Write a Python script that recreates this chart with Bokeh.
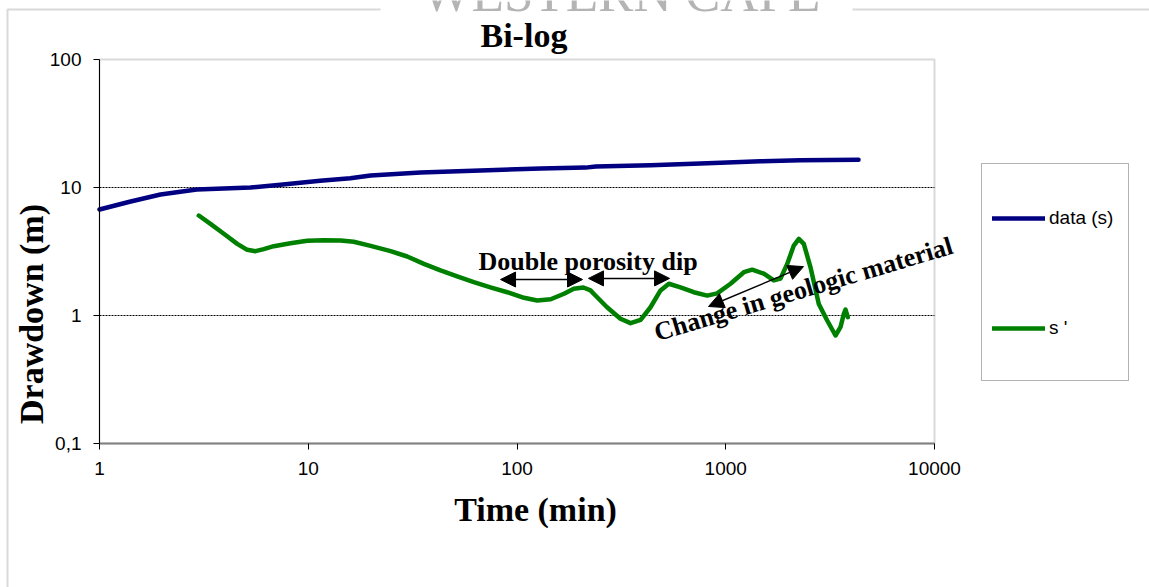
import math
from bokeh.plotting import figure
from bokeh.models import (FixedTicker, Label, Arrow, NormalHead, BoxAnnotation,
                          Legend, LegendItem)
from bokeh.embed import file_html
from bokeh.resources import INLINE

# ---------------- data ----------------
time_s = [1, 1.41, 1.96, 2.92, 5.29, 7.36, 11.4, 15.9, 19.9, 34.5, 66.8, 130,
          213, 238, 436, 757, 1468, 2280, 4326]
data_s = [6.73, 7.78, 8.82, 9.65, 10.0, 10.5, 11.3, 11.8, 12.4, 13.1, 13.6, 14.1,
          14.3, 14.6, 14.9, 15.4, 16.0, 16.3, 16.5]

time_d = [2.99, 3.40, 3.94, 4.57, 5.10, 5.59, 6.12, 6.84, 8.22, 9.89,
          11.9, 14.3, 16.5, 19.9, 24.8, 29.8, 35.8, 43.0, 51.7, 62.1,
          74.6, 89.8, 108, 125, 145, 168, 187, 208, 225, 233,
          270, 313, 350, 391, 436, 487, 534, 607, 703, 815,
          910, 1054, 1221, 1339, 1522, 1699, 1829, 1970, 2118, 2239,
          2365, 2547, 2791, 3062, 3356, 3545, 3678, 3748, 3844]
deriv_s = [6.04, 5.20, 4.35, 3.63, 3.26, 3.18, 3.30, 3.48, 3.67, 3.83,
           3.88, 3.85, 3.77, 3.50, 3.18, 2.89, 2.53, 2.25, 2.02, 1.82,
           1.66, 1.52, 1.375, 1.31, 1.34, 1.48, 1.62, 1.655, 1.57, 1.48,
           1.16, 0.943, 0.871, 0.926, 1.16, 1.57, 1.77, 1.66, 1.52, 1.43,
           1.49, 1.77, 2.18, 2.28, 2.12, 1.88, 1.94, 2.53, 3.52, 3.97,
           3.63, 2.38, 1.23, 0.914, 0.698, 0.810, 1.03, 1.11, 0.97]

x_ticks = [1, 10, 100, 1000, 10000]
x_tick_labels = ["1", "10", "100", "1000", "10000"]
y_ticks = [0.1, 1, 10, 100]
y_tick_labels = ["0,1", "1", "10", "100"]
grid_lines = [1, 10]

series_names = ["data (s)", "s '"]
title_text = "Bi-log"
x_title = "Time (min)"
y_title = "Drawdown (m)"
note_dip = "Double porosity dip"
note_geo = "Change in geologic material"
watermark = "WESTERN CAPE"

SERIF = "Liberation Serif"
SANS = "Liberation Sans"

# ---------------- layout (pixels) ----------------
W, H = 1149, 587
X_LO, X_HI = 1, 10000
Y_LO, Y_HI = 0.1, 100
L, R, T, B = 99, 934, 59, 443          # plot-area edges in the window
DX = (R - L) / math.log10(X_HI / X_LO)  # px per decade
DY = (B - T) / math.log10(Y_HI / Y_LO)
x_range = (X_LO * 10 ** (-L / DX), X_LO * 10 ** ((W - L) / DX))
y_range = (Y_LO * 10 ** (-(H - B) / DY), Y_HI * 10 ** (T / DY))


def sy(py):
    """window pixel row -> screen units (from the bottom)"""
    return H - py


p = figure(width=W, height=H, x_axis_type="log", y_axis_type="log",
           x_range=x_range, y_range=y_range,
           output_backend="svg", toolbar_location=None,
           min_border=0, min_border_left=0, min_border_right=0,
           min_border_top=0, min_border_bottom=0,
           background_fill_color="white", border_fill_color="white")
p.outline_line_color = None
p.xgrid.visible = False
p.ygrid.visible = False

# axes drawn at the plot-area edges
p.xaxis.fixed_location = Y_LO
p.xaxis.bounds = (X_LO, X_HI)
p.yaxis.fixed_location = X_LO
p.yaxis.bounds = (Y_LO, Y_HI)
p.xaxis.ticker = FixedTicker(ticks=x_ticks)
p.xaxis.major_label_overrides = dict(zip(x_ticks, x_tick_labels))
p.yaxis.ticker = FixedTicker(ticks=y_ticks)
p.yaxis.major_label_overrides = dict(zip(y_ticks, y_tick_labels))
for ax in (p.xaxis, p.yaxis):
    ax.minor_tick_line_color = None
    ax.major_tick_in = 0
    ax.major_tick_out = 6
    ax.major_tick_line_color = "black"
    ax.major_label_text_font = SANS
    ax.major_label_text_font_size = "19px"
    ax.major_label_text_color = "black"
p.yaxis.axis_line_color = "black"
p.yaxis.axis_line_width = 1
p.yaxis.major_label_standoff = 12
p.xaxis.axis_line_color = "#808080"
p.xaxis.axis_line_width = 2
p.xaxis.major_label_standoff = 12

# outer chart border, watermark
p.add_layout(BoxAnnotation(left=7, right=W + 20, top=sy(9), bottom=-30,
                           left_units="screen", right_units="screen",
                           top_units="screen", bottom_units="screen",
                           fill_color=None, fill_alpha=0,
                           line_color="#808080", line_width=2, level="underlay"))
p.add_layout(BoxAnnotation(left=380, right=852, top=H + 20, bottom=sy(16),
                           left_units="screen", right_units="screen",
                           top_units="screen", bottom_units="screen",
                           fill_color="white", fill_alpha=1, line_color=None,
                           level="underlay"))
p.add_layout(Label(x=421, y=sy(-7.5), x_units="screen", y_units="screen",
                   text=watermark, text_font=SERIF, text_font_size="53px",
                   text_color="#b4b4b4", text_baseline="alphabetic"))

# plot-area frame (grey) and dotted gridlines
p.add_layout(BoxAnnotation(left=X_LO, right=X_HI, bottom=Y_LO, top=Y_HI,
                           fill_color=None, fill_alpha=0,
                           line_color="#808080", line_width=2, level="underlay"))
p.segment(x0=[X_LO] * len(grid_lines), x1=[X_HI] * len(grid_lines),
          y0=grid_lines, y1=grid_lines,
          line_color="black", line_width=1, line_dash="2 1")

# series
r_data = p.line(time_s, data_s, line_color="#000080", line_width=4.5,
                line_cap="round", line_join="round")
r_deriv = p.line(time_d, deriv_s, line_color="#008000", line_width=4.5,
                 line_cap="round", line_join="round")

# titles
p.add_layout(Label(x=480, y=sy(35.4), x_units="screen", y_units="screen",
                   text=title_text, text_font=SERIF, text_font_size="34px",
                   text_font_style="bold", text_align="left",
                   text_baseline="alphabetic", text_color="black"))
p.add_layout(Label(x=535, y=sy(509.4), x_units="screen", y_units="screen",
                   text=x_title, text_font=SERIF, text_font_size="34px",
                   text_font_style="bold", text_align="center",
                   text_baseline="alphabetic", text_color="black"))
p.add_layout(Label(x=31.4, y=sy(313.5), x_units="screen", y_units="screen",
                   text=y_title, text_font=SERIF, text_font_size="34px",
                   text_font_style="bold", text_align="center",
                   text_baseline="alphabetic", text_color="black",
                   angle=90, angle_units="deg"))

# annotations
p.add_layout(Label(x=65.4, y=2.63, text=note_dip, text_font=SERIF,
                   text_font_size="26px", text_font_style="bold",
                   text_align="left", text_baseline="alphabetic",
                   text_color="black"))


def head():
    return NormalHead(size=15, fill_color="black", line_color="black")


for xs, ys, xe, ye in [(83.4, 1.91, 206, 1.91), (220, 1.95, 538, 1.95),
                       (827, 1.176, 2358, 2.41)]:
    p.add_layout(Arrow(x_start=xs, y_start=ys, x_end=xe, y_end=ye,
                       start=head(), end=head(),
                       line_color="black", line_width=1.5))
p.add_layout(Label(x=458, y=0.729, text=note_geo, text_font=SERIF,
                   text_font_size="26px", text_font_style="bold",
                   text_align="left", text_baseline="alphabetic",
                   text_color="black", angle=16.5, angle_units="deg"))

# legend box and legend
p.add_layout(BoxAnnotation(left=981, right=1128, top=sy(163), bottom=sy(380),
                           left_units="screen", right_units="screen",
                           top_units="screen", bottom_units="screen",
                           fill_color="white", fill_alpha=1,
                           line_color="black", line_width=1, level="underlay"))
legend = Legend(items=[LegendItem(label=series_names[0], renderers=[r_data]),
                       LegendItem(label=series_names[1], renderers=[r_deriv])],
                location=(992, sy(211 + 128)), padding=0, margin=0,
                glyph_width=53, glyph_height=20, label_height=20,
                spacing=88, label_standoff=4,
                label_text_font=SANS, label_text_font_size="19px",
                label_text_color="black",
                border_line_color=None, background_fill_alpha=0)
p.add_layout(legend)

open("out.html", "w").write(file_html(p, INLINE))
